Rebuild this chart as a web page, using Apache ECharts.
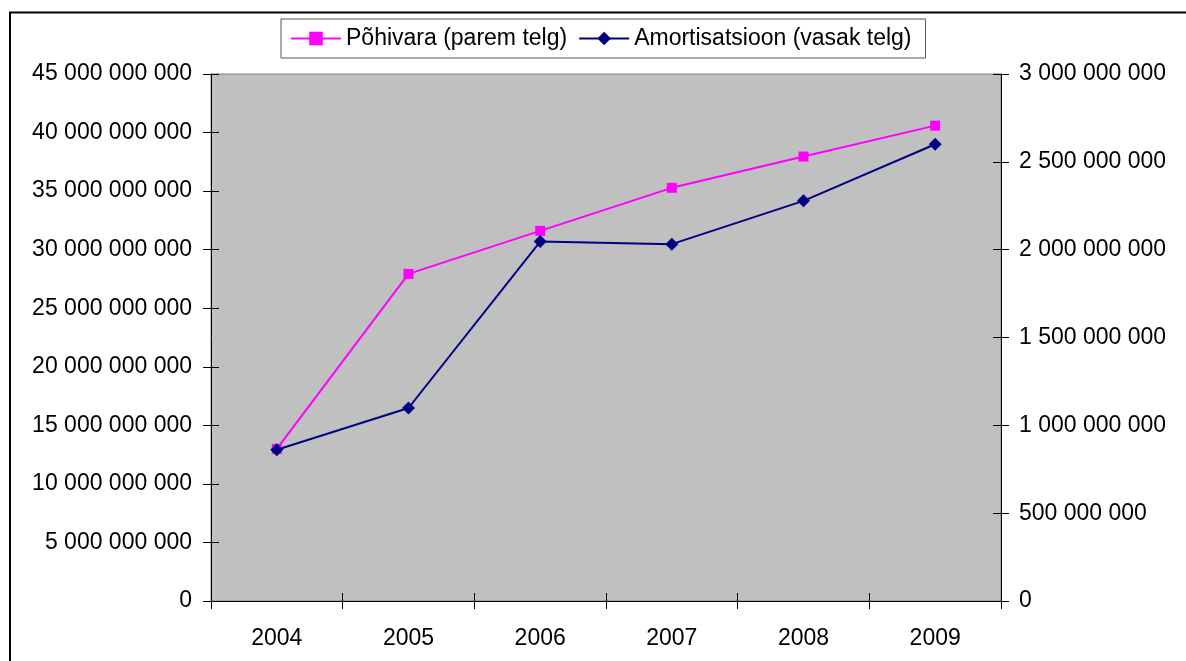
<!DOCTYPE html>
<html>
<head>
<meta charset="utf-8">
<script src="https://cdn.jsdelivr.net/npm/echarts@6/dist/echarts.min.js"></script>
<style>
  html, body { margin: 0; padding: 0; background: #fff; }
  #chart { width: 1186px; height: 661px; }
</style>
</head>
<body>
<div id="chart"></div>
<script>
// andmed
var years = ['2004', '2005', '2006', '2007', '2008', '2009'];
var pohivara = [866000000, 1862000000, 2107000000, 2352000000, 2530000000, 2706000000]; // parem telg
var amortisatsioon = [12920000000, 16480000000, 30690000000, 30470000000, 34170000000, 39000000000]; // vasak telg
var leftMax = 45000000000, leftStep = 5000000000;
var rightMax = 3000000000, rightStep = 500000000;

var font = '"Liberation Sans", Arial, sans-serif';

// 45000000000 -> "45 000 000 000"
function fmt(v) {
    return String(Math.round(v)).replace(/\B(?=(\d{3})+(?!\d))/g, ' ');
}

var chart = echarts.init(document.getElementById('chart'));

// tick marks cross the axis line: outside ticks on the real axes, inside ticks on copies
function yAxisOf(pos, max, step, inside) {
    return {
        type: 'value', position: pos, min: 0, max: max, interval: step,
        splitLine: {show: false},
        axisLine: {show: !inside, lineStyle: {color: '#000', width: 1}},
        axisTick: {show: true, inside: inside, length: 8, lineStyle: {color: '#000'}},
        axisLabel: {
            show: !inside, margin: pos === 'left' ? 19 : 18,
            color: '#000', fontSize: 23, fontFamily: font, formatter: fmt
        }
    };
}
function xAxisOf(inside) {
    return {
        type: 'category', data: years, position: 'bottom', boundaryGap: true,
        axisLine: {show: !inside, onZero: false, lineStyle: {color: '#000', width: 1}},
        axisTick: {show: true, inside: inside, length: 8, lineStyle: {color: '#000'}},
        axisLabel: {show: !inside, margin: 26, color: '#000', fontSize: 23, fontFamily: font},
        splitLine: {show: false}
    };
}

chart.setOption({
    animation: false,
    backgroundColor: '#fff',
    graphic: [{
        type: 'rect', z: -10,
        shape: {x: 10, y: 12.5, width: 1300, height: 800},
        style: {fill: 'none', stroke: '#000', lineWidth: 2}
    }],
    legend: {
        left: 281, top: 19,
        padding: [8, 14, 8, 9],
        itemGap: 11, itemWidth: 50, itemHeight: 17,
        borderColor: '#555', borderWidth: 1,
        textStyle: {color: '#000', fontSize: 23, fontFamily: font},
        data: ['Põhivara (parem telg)', 'Amortisatsioon (vasak telg)']
    },
    grid: {
        left: 211, right: 185, top: 74, bottom: 60,
        show: true, backgroundColor: '#c0c0c0', borderColor: '#808080', borderWidth: 1
    },
    xAxis: [xAxisOf(false), xAxisOf(true)],
    yAxis: [
        yAxisOf('left', leftMax, leftStep, false),
        yAxisOf('right', rightMax, rightStep, false),
        yAxisOf('left', leftMax, leftStep, true),
        yAxisOf('right', rightMax, rightStep, true)
    ],
    series: [
        {
            name: 'Põhivara (parem telg)',
            type: 'line', yAxisIndex: 1,
            data: pohivara,
            symbol: 'rect', symbolSize: 10,
            lineStyle: {color: '#ff00ff', width: 2},
            itemStyle: {color: '#ff00ff'}
        },
        {
            name: 'Amortisatsioon (vasak telg)',
            type: 'line', yAxisIndex: 0,
            data: amortisatsioon,
            symbol: 'diamond', symbolSize: 13,
            lineStyle: {color: '#000080', width: 2},
            itemStyle: {color: '#000080'}
        }
    ]
});
</script>
</body>
</html>
